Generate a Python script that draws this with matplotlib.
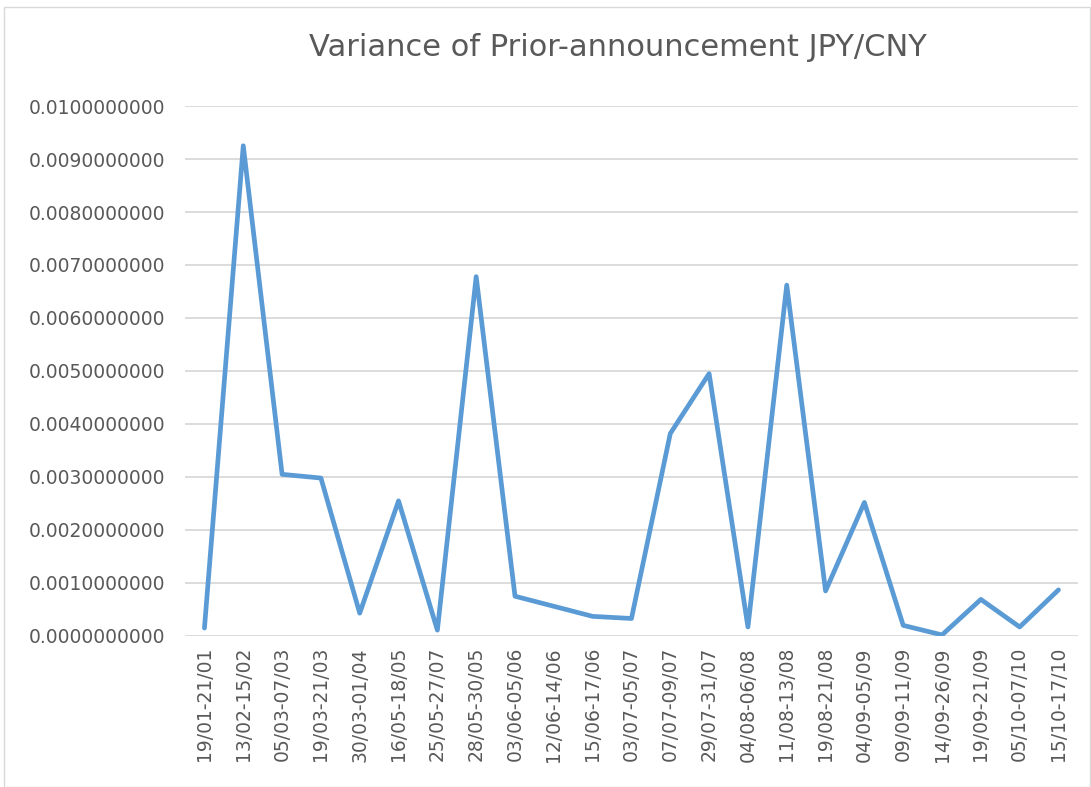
import matplotlib.pyplot as plt
from matplotlib.ticker import FuncFormatter
from matplotlib.patches import Rectangle

# Periods (prior-announcement windows)
periods = ['19/01-21/01', '13/02-15/02', '05/03-07/03', '19/03-21/03', '30/03-01/04',
           '16/05-18/05', '25/05-27/07', '28/05-30/05', '03/06-05/06', '12/06-14/06',
           '15/06-17/06', '03/07-05/07', '07/07-09/07', '29/07-31/07', '04/08-06/08',
           '11/08-13/08', '19/08-21/08', '04/09-05/09', '09/09-11/09', '14/09-26/09',
           '19/09-21/09', '05/10-07/10', '15/10-17/10']

# Variance values
variance = [0.00015, 0.00925, 0.00305, 0.00298, 0.00043,
            0.00255, 0.00011, 0.00678, 0.00075, 0.00056,
            0.00037, 0.00033, 0.00382, 0.00495, 0.00017,
            0.00662, 0.00085, 0.00252, 0.00020, 0.00002,
            0.00069, 0.00017, 0.00087]

text_color = '#595959'
plt.rcParams['font.family'] = ['DejaVu Sans']

fig = plt.figure(figsize=(10.91, 7.87), dpi=100)
ax = fig.add_axes([0.1696, 0.1919, 0.988 - 0.1696, 0.8653 - 0.1919])

x = range(len(periods))
ax.plot(x, variance, color='#5B9BD5', linewidth=3.4, solid_joinstyle='round',
        solid_capstyle='round', zorder=3)

ax.set_xlim(-0.5, len(periods) - 0.5)
ax.set_ylim(0, 0.01)
ax.set_yticks([i * 0.001 for i in range(11)])
ax.yaxis.set_major_formatter(FuncFormatter(lambda v, p: f'{v:.10f}'))
ax.set_xticks(list(x))
ax.set_xticklabels(periods, rotation=90)

ax.grid(axis='y', color='#D9D9D9', linewidth=1.3)
ax.set_axisbelow(True)
for s in ax.spines.values():
    s.set_visible(False)
ax.tick_params(axis='both', length=0, colors=text_color, labelsize=13.5)
ax.tick_params(axis='y', pad=14)
ax.tick_params(axis='x', pad=8)

fig.text(0.566, 0.94, 'Variance of Prior-announcement JPY/CNY', ha='center', va='center',
         fontsize=22, color=text_color)

# chart border
fig.patches.append(Rectangle((0.004, 0.0), 0.995, 0.991, transform=fig.transFigure,
                             fill=False, edgecolor='#D9D9D9', linewidth=1))

fig.savefig('out.png', dpi=100)
